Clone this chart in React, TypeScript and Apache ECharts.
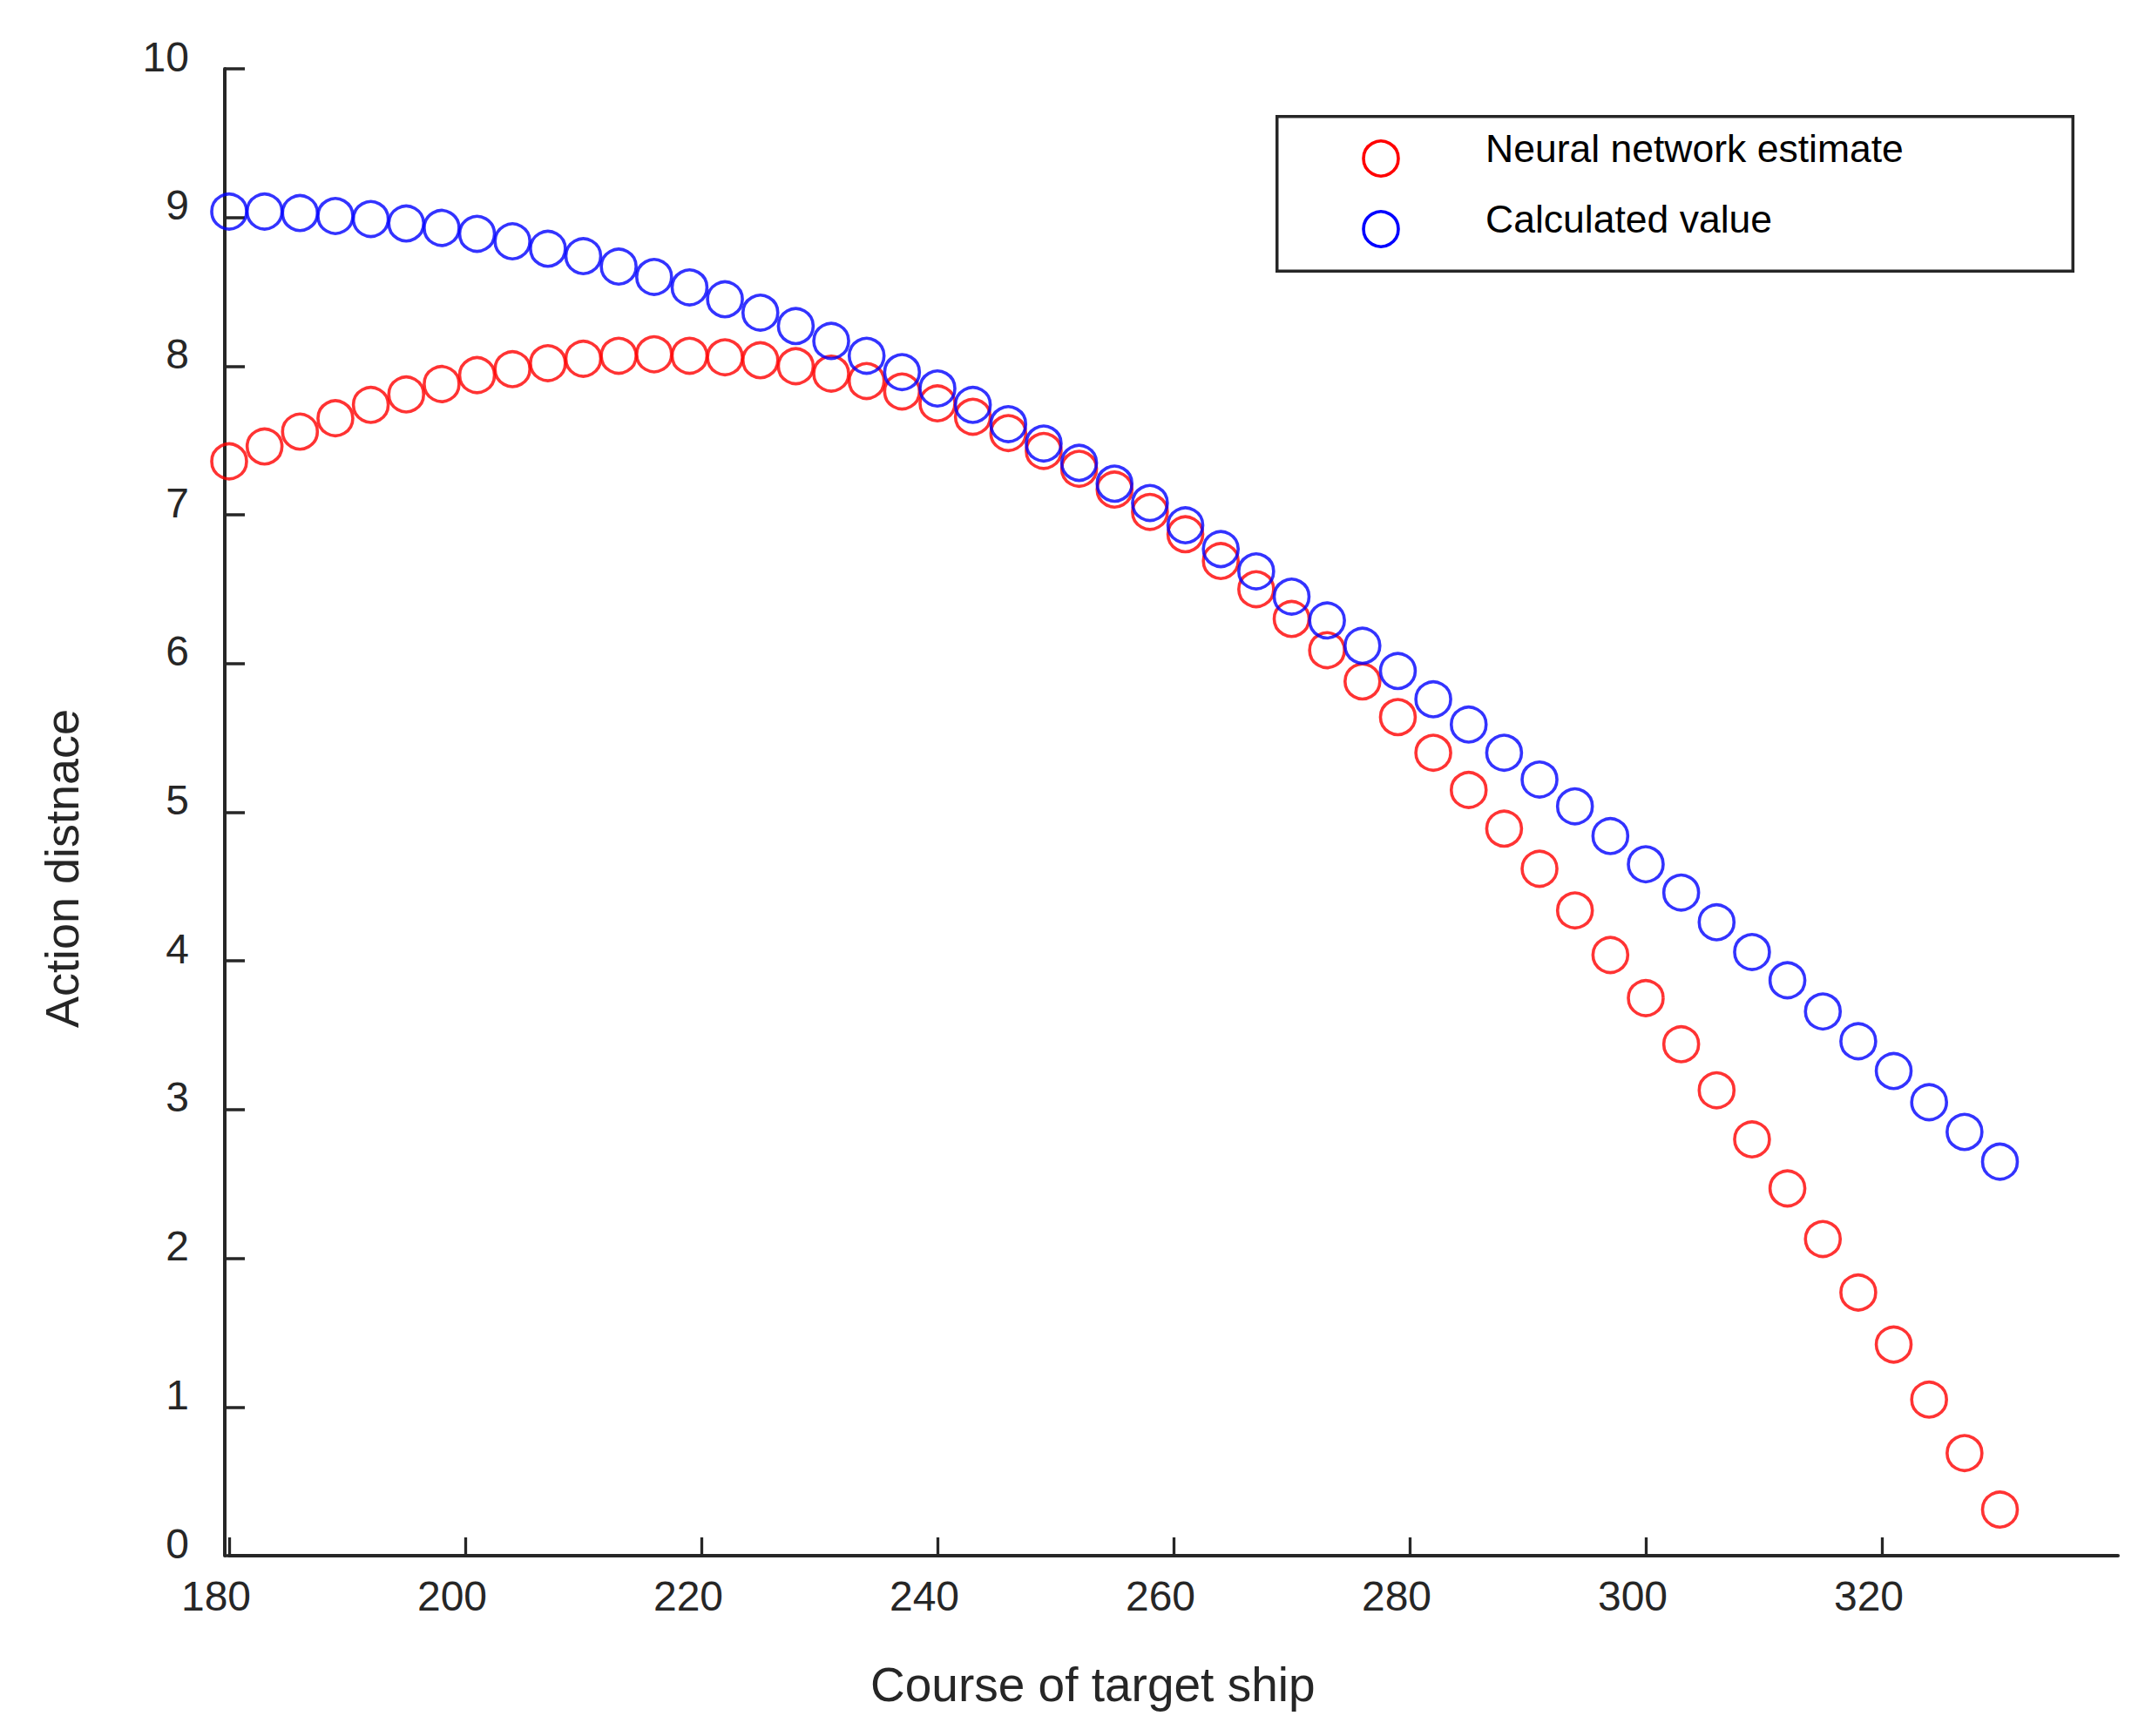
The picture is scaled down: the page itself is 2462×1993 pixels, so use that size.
import React, { useEffect, useRef } from "react";
import * as echarts from "echarts";

const courses = [
  180, 183, 186, 189, 192, 195, 198, 201, 204, 207, 210, 213, 216, 219, 222, 225, 228,
  231, 234, 237, 240, 243, 246, 249, 252, 255, 258, 261, 264, 267, 270, 273, 276, 279,
  282, 285, 288, 291, 294, 297, 300, 303, 306, 309, 312, 315, 318, 321, 324, 327, 330,
];

const neuralEstimate = [
  7.36, 7.46, 7.56, 7.65, 7.74, 7.81, 7.88, 7.94, 7.98, 8.02, 8.05, 8.07, 8.08, 8.07,
  8.06, 8.04, 8.0, 7.95, 7.9, 7.83, 7.75, 7.66, 7.55, 7.43, 7.31, 7.17, 7.02, 6.87,
  6.69, 6.5, 6.3, 6.09, 5.88, 5.64, 5.4, 5.15, 4.89, 4.62, 4.34, 4.04, 3.75, 3.44, 3.13,
  2.8, 2.47, 2.13, 1.77, 1.42, 1.05, 0.69, 0.31,
];

const calculatedValue = [
  9.04, 9.04, 9.03, 9.01, 8.99, 8.96, 8.93, 8.89, 8.84, 8.79, 8.74, 8.67, 8.6, 8.53, 8.45,
  8.36, 8.27, 8.17, 8.07, 7.96, 7.85, 7.74, 7.61, 7.48, 7.35, 7.21, 7.08, 6.93, 6.77,
  6.62, 6.45, 6.29, 6.12, 5.95, 5.76, 5.59, 5.4, 5.22, 5.04, 4.84, 4.65, 4.46, 4.26, 4.06,
  3.87, 3.66, 3.46, 3.26, 3.05, 2.85, 2.65,
];

const xTicks = [180, 200, 220, 240, 260, 280, 300, 320];

const seriesNames = ["Neural network estimate", "Calculated value"];
const seriesColors = ["#ff0000", "#0000ff"];
const xTitle = "Course of target ship";
const yTitle = "Action distnace";

const FONT = "'Liberation Sans', Arial, Helvetica, sans-serif";
const AXIS_COLOR = "#262626";

export default function App() {
  const ref = useRef<HTMLDivElement>(null);

  useEffect(() => {
    if (!ref.current) return;
    const chart = echarts.init(ref.current, null, { renderer: "svg" });
    const mk = (vals: number[]) => courses.map((c, i) => [c, vals[i]]);

    // Legend box drawn by hand (matches reference layout)
    const legendLeft = 1464;
    const legendTop = 132;
    const legendW = 917;
    const legendH = 181;
    const iconX = 1585;
    const rowY = [182, 263];
    const textX = 1705;
    const legendItems = seriesNames.flatMap((name, i) => [
      {
        type: "circle",
        shape: { cx: iconX, cy: rowY[i], r: 20 },
        style: { fill: "none", stroke: seriesColors[i], lineWidth: 3.6 },
        z: 101,
      },
      {
        type: "text",
        x: textX,
        y: rowY[i] - 11.5,
        style: {
          text: name,
          fill: "#000000",
          font: `44.5px ${FONT}`,
          align: "left",
          verticalAlign: "middle",
        },
        z: 101,
      },
    ]);

    chart.setOption({
      animation: false,
      backgroundColor: "#ffffff",
      textStyle: { fontFamily: FONT },
      grid: { left: 263, right: 31, top: 79, bottom: 207, containLabel: false },
      xAxis: {
        type: "value",
        min: 180,
        max: 340,
        interval: 20,
        axisLine: { show: true, onZero: false, lineStyle: { color: AXIS_COLOR, width: 4 } },
        axisTick: {
          show: true,
          inside: true,
          length: 21,
          customValues: xTicks,
          lineStyle: { color: AXIS_COLOR, width: 3.3 },
        },
        splitLine: { show: false },
        axisLabel: {
          color: AXIS_COLOR,
          fontSize: 48,
          fontFamily: FONT,
          margin: 22,
          padding: [0, 30, 0, 0],
          customValues: xTicks,
          formatter: (v: number) => (v >= 340 ? "" : String(v)),
        },
      },
      yAxis: {
        type: "value",
        min: 0,
        max: 10,
        interval: 1,
        offset: 5,
        axisLine: { show: true, onZero: false, lineStyle: { color: AXIS_COLOR, width: 4 } },
        axisTick: { show: true, inside: true, length: 23, lineStyle: { color: AXIS_COLOR, width: 3.5 } },
        splitLine: { show: false },
        axisLabel: {
          color: AXIS_COLOR,
          fontSize: 48,
          fontFamily: FONT,
          margin: 41,
          verticalAlign: "bottom",
          lineHeight: 28,
        },
      },
      graphic: [
        {
          type: "rect",
          shape: { x: legendLeft + 1.75, y: legendTop + 1.75, width: legendW - 3.5, height: legendH - 3.5 },
          style: { fill: "#ffffff", stroke: AXIS_COLOR, lineWidth: 3.5 },
          z: 100,
        },
        ...legendItems,
        {
          type: "text",
          left: 1258 - 259,
          top: 1944 - 38,
          style: { text: xTitle, fill: AXIS_COLOR, font: `55px ${FONT}` },
        },
        {
          type: "text",
          x: 71,
          y: 997,
          rotation: Math.PI / 2,
          style: {
            text: yTitle,
            fill: AXIS_COLOR,
            font: `54px ${FONT}`,
            align: "center",
            verticalAlign: "middle",
          },
        },
      ],
      series: [
        {
          name: seriesNames[0],
          type: "scatter",
          data: mk(neuralEstimate),
          symbol: "circle",
          symbolSize: 40,
          itemStyle: { color: "rgba(0,0,0,0)", borderColor: seriesColors[0], borderWidth: 3.6 },
          z: 2,
        },
        {
          name: seriesNames[1],
          type: "scatter",
          data: mk(calculatedValue),
          symbol: "circle",
          symbolSize: 40,
          itemStyle: { color: "rgba(0,0,0,0)", borderColor: seriesColors[1], borderWidth: 3.6 },
          z: 3,
        },
      ],
    });
    return () => chart.dispose();
  }, []);

  return (
    <div
      ref={ref}
      style={{ position: "fixed", left: 0, top: 0, width: 2462, height: 1993, background: "#fff" }}
    />
  );
}
